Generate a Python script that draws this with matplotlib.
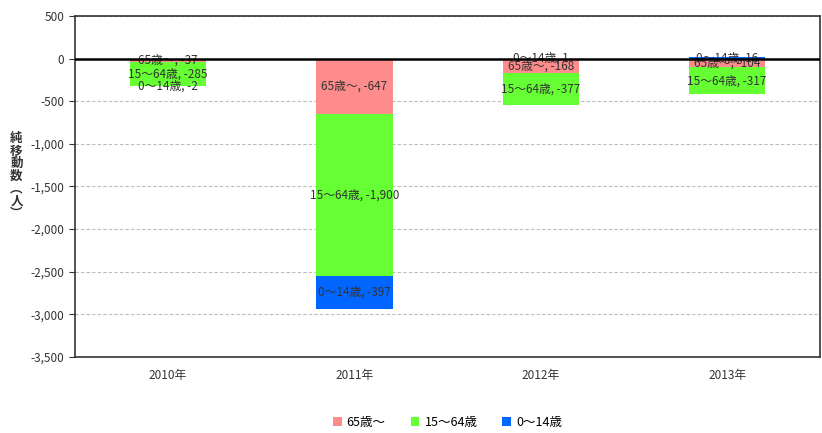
import matplotlib
matplotlib.use("Agg")
import matplotlib.pyplot as plt
import numpy as np

plt.rcParams['font.family'] = ['Noto Sans CJK JP', 'DejaVu Sans']

years = ["2010年", "2011年", "2012年", "2013年"]
groups = ["65歳〜", "15〜64歳", "0〜14歳"]
age65 = [-37, -647, -168, -104]
age15 = [-285, -1900, -377, -317]
age0 = [-2, -397, 1, 16]
colors = ["#FF8C8C", "#66FF33", "#0066FF"]

fig = plt.figure(figsize=(8.22, 4.33), dpi=100)
ax = fig.add_axes([0.091, 0.176, 0.907, 0.787])

x = np.arange(len(years))
neg = np.zeros(len(years))
pos = np.zeros(len(years))
for name, vals, c in zip(groups, [age65, age15, age0], colors):
    vals = np.array(vals, dtype=float)
    bottoms = np.where(vals < 0, neg, pos)
    ax.bar(x, vals, 0.41, bottom=bottoms, color=c, label=name, zorder=2)
    for xi, b, v in zip(x, bottoms, vals):
        ax.text(xi, b + v / 2, f"{name}, {int(v):,}", ha="center", va="center",
                fontsize=8.5, color="#333333", zorder=3)
    neg = np.where(vals < 0, neg + vals, neg)
    pos = np.where(vals >= 0, pos + vals, pos)

ax.set_xlim(-0.5, len(years) - 0.5)
ax.set_ylim(-3500, 500)
ax.set_yticks(np.arange(-3500, 501, 500))
ax.yaxis.set_major_formatter(matplotlib.ticker.FuncFormatter(lambda v, p: f"{int(v):,}"))
ax.set_xticks(x)
ax.set_xticklabels(years)
ax.tick_params(axis="y", labelsize=8.5, length=4, colors="#333333")
ax.tick_params(axis="x", labelsize=8.5, length=0, pad=9, colors="#333333")
ax.grid(axis="y", linestyle=(0, (3, 2)), color="#BBBBBB", linewidth=0.8, zorder=0)
ax.axhline(0, color="black", linewidth=1.8, zorder=4)
for s in ax.spines.values():
    s.set_color("#333333")
    s.set_linewidth(1.2)

fig.text(0.02, 0.695, "\n".join("純移動数︵人︶"), ha="center", va="top",
         fontsize=9, fontweight="bold", color="#333333", linespacing=0.95)

ax.legend(loc="upper center", bbox_to_anchor=(0.5, -0.14), ncol=3, frameon=False,
          fontsize=9, handlelength=0.7, handleheight=0.7, columnspacing=2.0,
          handletextpad=0.4)

fig.savefig("out.png", dpi=100)
